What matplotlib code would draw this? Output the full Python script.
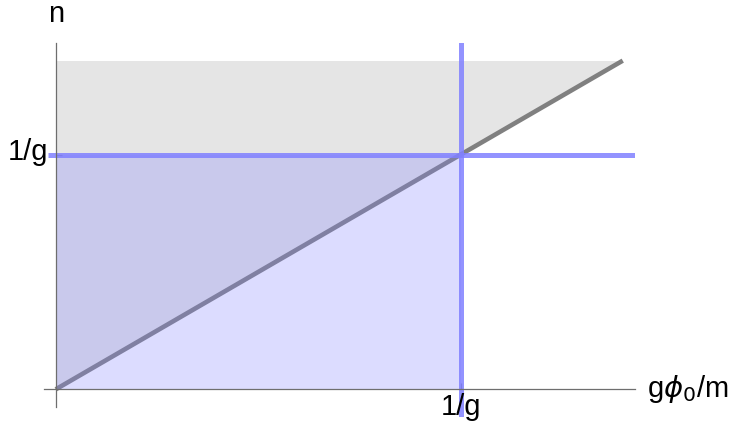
import matplotlib
matplotlib.use("Agg")
import matplotlib.pyplot as plt
from matplotlib.patches import Polygon, Rectangle

plt.rcParams['font.family'] = ['Liberation Sans', 'DejaVu Sans']
plt.rcParams['mathtext.fontset'] = 'dejavusans'

# Values in units where 1/g = 1
inv_g = 1.0          # position of the 1/g marks on both axes
n_max = 1.4          # upper end of the diagonal n = g*phi0/m
diag_x = [0.0, n_max]
diag_y = [0.0, n_max]
x_range = (-0.03, 1.43)
y_range = (-0.117, 1.476)
y_axis_bottom = -0.075
tick_labels = ["1/g"]

fig = plt.figure(figsize=(7.43, 4.32), dpi=100)
ax = fig.add_axes([43.6 / 743, (432 - 416.8) / 432, 591.3 / 743, 374 / 432])
ax.set_xlim(*x_range)
ax.set_ylim(*y_range)

# Gray region above the diagonal
ax.add_patch(Polygon([(0, 0), (0, n_max), (n_max, n_max)], closed=True,
                     facecolor='#e5e5e5', edgecolor='none', zorder=1))
# Diagonal line
ax.plot(diag_x, diag_y, color='#808080', lw=3.3, solid_capstyle='butt', zorder=2)
# Translucent blue square [0, 1/g] x [0, 1/g]
ax.add_patch(Rectangle((0, 0), inv_g, inv_g, facecolor=(0.5, 0.5, 1.0),
                       alpha=0.27, edgecolor='none', zorder=3))
# Blue guide lines at 1/g
ax.axvline(inv_g, color=(0.5, 0.5, 1.0), alpha=0.85, lw=3.6, zorder=4)
ax.plot([-0.019, x_range[1]], [inv_g, inv_g], color=(0.5, 0.5, 1.0),
        alpha=0.85, lw=3.6, solid_capstyle='butt', zorder=4)

# Axes through the origin
for side in ['top', 'right']:
    ax.spines[side].set_visible(False)
ax.spines['left'].set_position(('data', 0))
ax.spines['bottom'].set_position(('data', 0))
ax.spines['left'].set_bounds(y_axis_bottom, y_range[1])
ax.spines['bottom'].set_bounds(x_range[0], x_range[1])
for side in ['left', 'bottom']:
    ax.spines[side].set_color('#6e6e6e')
    ax.spines[side].set_linewidth(0.9)
    ax.spines[side].set_zorder(5)

ax.set_xticks([inv_g])
ax.set_yticks([inv_g])
ax.set_xticklabels([])
ax.set_yticklabels([])
ax.tick_params(direction='in', length=4.5, width=0.9, color='#6e6e6e')

fs = 21
# 1/g labels, placed by baseline in pixel offsets from the axes origin
ax.text(inv_g, -(415 - 389.3) / 234.8, tick_labels[0], ha='center', va='baseline',
        fontsize=fs, zorder=6)
ax.text(-7 / 405, inv_g - (160 - 154.5) / 234.8, tick_labels[0], ha='right',
        va='baseline', fontsize=fs, zorder=6)

fig.text(55.7 / 743, 1 - 22 / 432, "n", ha='center', va='baseline', fontsize=fs)
fig.text(647 / 743, 1 - 397 / 432, r"g$\phi_0$/m", ha='left', va='baseline', fontsize=fs)

fig.savefig("out.png", dpi=100)
